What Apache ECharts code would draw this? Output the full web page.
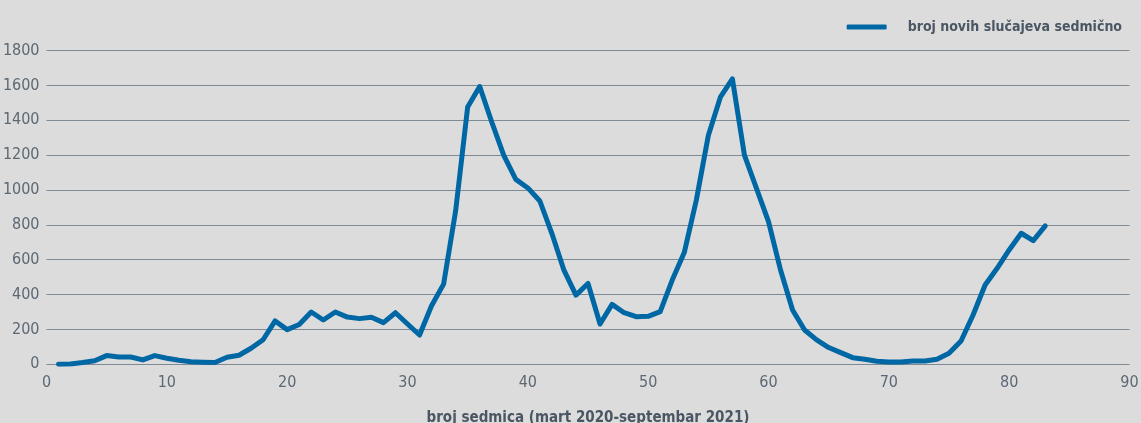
<!DOCTYPE html>
<html>
<head>
<meta charset="utf-8">
<script src="https://cdn.jsdelivr.net/npm/echarts@6/dist/echarts.min.js"></script>
<style>
  html, body { margin: 0; padding: 0; background: #dcdcdc; }
  #chart { width: 1141px; height: 423px; }
</style>
</head>
<body>
<div id="chart"></div>
<script>
// sedmica (week number)
var weeks = [];
for (var i = 1; i <= 83; i++) weeks.push(i);

// broj novih slučajeva sedmično
var cases = [
  0, 2, 10, 20, 50, 42, 42, 25, 50, 35,
  23, 15, 12, 10, 40, 52, 92, 141, 249, 199,
  228, 300, 254, 300, 271, 262, 270, 239, 296, 231,
  168, 336, 460, 880, 1476, 1594, 1390, 1199, 1061, 1012,
  937, 750, 540, 397, 464, 231, 344, 296, 273, 275,
  302, 483, 641, 941, 1313, 1533, 1638, 1200, 1010, 819,
  541, 312, 197, 140, 96, 67, 38, 29, 17, 13,
  13, 19, 19, 29, 63, 134, 283, 455, 551, 656,
  752, 710, 794
];

var seriesName = 'broj novih slučajeva sedmično';
var xAxisName = 'broj sedmica (mart 2020-septembar 2021)';

var font = "'Liberation Sans Narrow', 'DejaVu Sans Condensed', sans-serif";

var chartDom = document.getElementById('chart');
var myChart = echarts.init(chartDom, null, { renderer: 'canvas' });

var option = {
  backgroundColor: '#dcdcdc',
  animation: false,
  legend: {
    right: 14,
    top: 15,
    itemWidth: 40,
    itemHeight: 5,
    icon: 'roundRect',
    textStyle: { color: '#4a5663', fontSize: 14, fontWeight: 'bold', fontFamily: font, padding: [0, 0, 0, 16] },
    data: [seriesName]
  },
  grid: {
    left: 46.5,
    right: 11.5,
    top: 50.6,
    bottom: 58.7,
    containLabel: false,
    outerBoundsMode: 'none'
  },
  xAxis: {
    type: 'value',
    min: 0,
    max: 90,
    interval: 10,
    name: xAxisName,
    nameLocation: 'middle',
    nameGap: 46,
    nameTextStyle: { color: '#4a5663', fontSize: 15, fontWeight: 'bold', fontFamily: font },
    axisLine: { show: false },
    axisTick: { show: false },
    splitLine: { show: false },
    axisLabel: { color: '#5c6873', fontSize: 16, fontFamily: font, margin: 11 }
  },
  yAxis: {
    type: 'value',
    min: 0,
    max: 1800,
    interval: 200,
    axisLine: { show: false },
    axisTick: { show: false },
    splitLine: { lineStyle: { color: '#7e8a94', width: 1.2 } },
    axisLabel: {
      color: '#5c6873', fontSize: 16, fontFamily: font, margin: 7,
      formatter: function (v) { return String(v); }
    }
  },
  series: [{
    name: seriesName,
    type: 'line',
    showSymbol: false,
    symbol: 'none',
    lineStyle: { color: '#0067a5', width: 5, join: 'round', cap: 'round' },
    itemStyle: { color: '#0067a5' },
    data: weeks.map(function (w, i) { return [w, cases[i]]; })
  }]
};

option && myChart.setOption(option);
</script>
</body>
</html>
